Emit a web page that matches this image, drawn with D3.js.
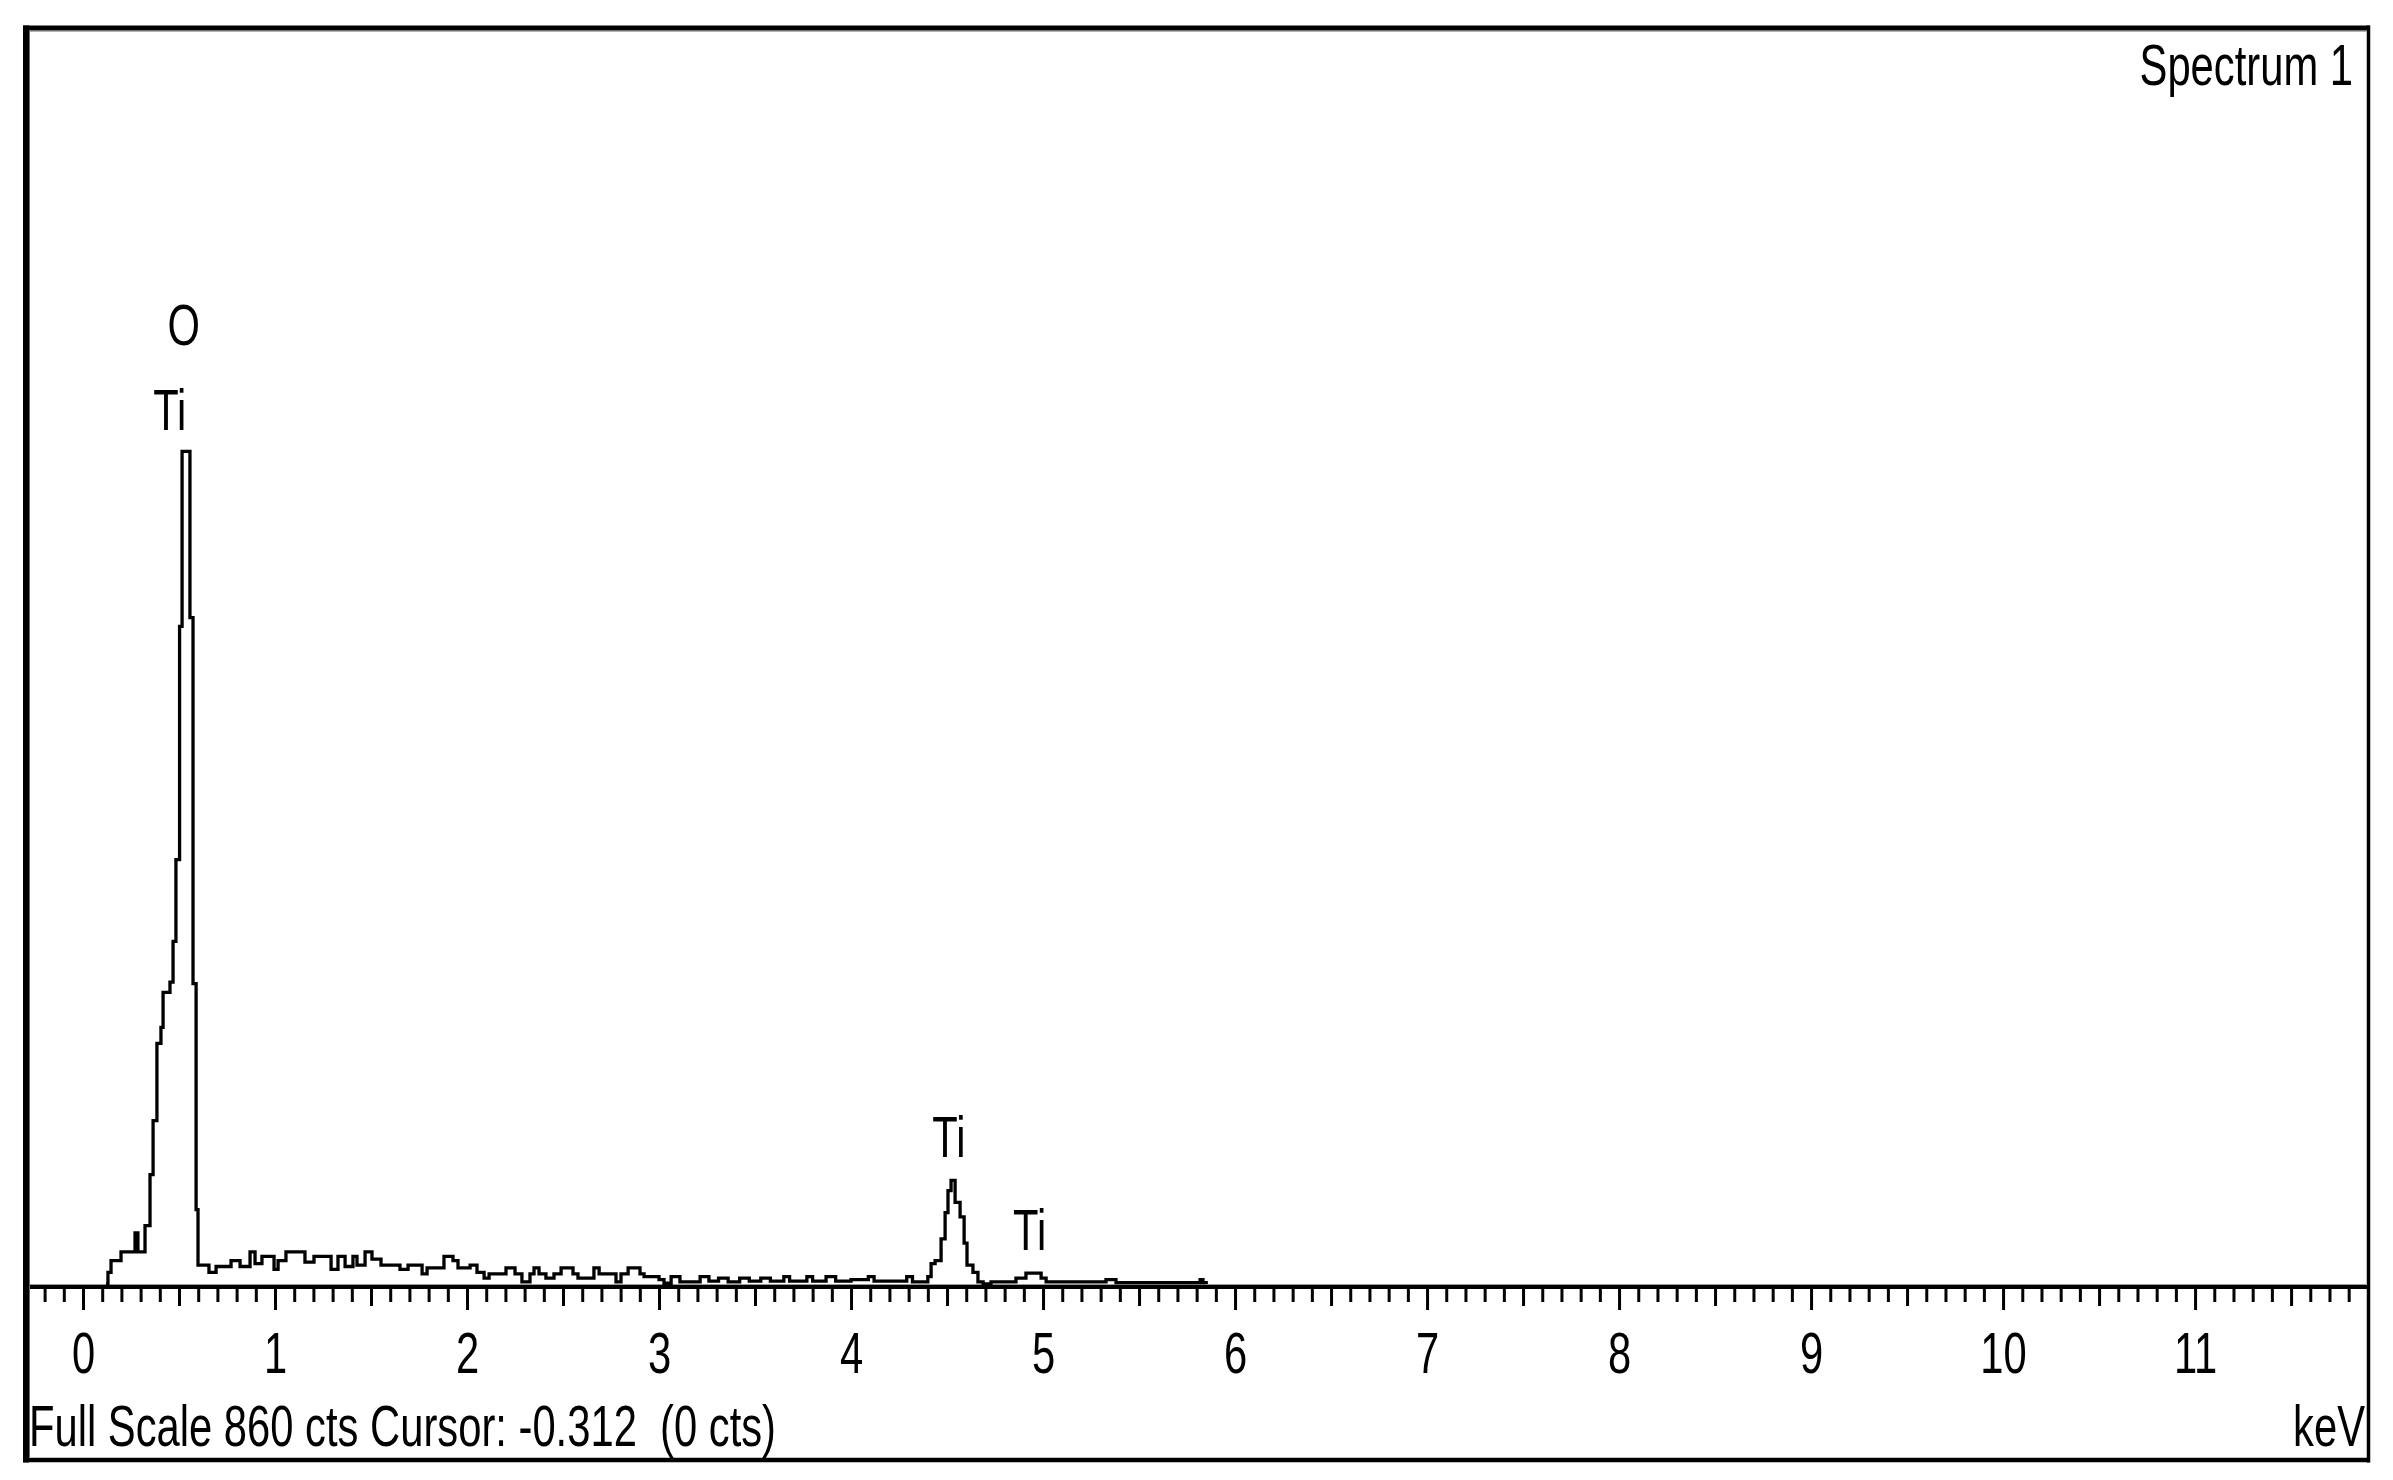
<!DOCTYPE html>
<html lang="en">
<head>
<meta charset="utf-8">
<title>EDS spectrum</title>
<script src="https://d3js.org/d3.v7.min.js"></script>
<style type="text/css">
body { margin: 0; background: #fff; }
text { font-family: "Liberation Sans", Arial, sans-serif; font-size: 58px; fill: #000; white-space: pre; }
</style>
</head>
<body>
<script type="text/javascript">

// spectrum: energy (keV) where each step starts, counts of that step
const energy = [0.12, 0.13, 0.146, 0.198, 0.271, 0.286, 0.323, 0.349, 0.365, 0.385, 0.406, 0.417, 0.453, 0.469, 0.484,
  0.503, 0.516, 0.557, 0.573, 0.589, 0.599, 0.656, 0.693, 0.771, 0.818, 0.870, 0.896, 0.932, 0.995, 1.016,
  1.057, 1.156, 1.203, 1.292, 1.328, 1.365, 1.406, 1.427, 1.469, 1.505, 1.552, 1.651, 1.693, 1.766, 1.792,
  1.880, 1.927, 1.953, 2.016, 2.052, 2.089, 2.115, 2.203, 2.250, 2.286, 2.328, 2.349, 2.375, 2.411, 2.453,
  2.490, 2.552, 2.578, 2.661, 2.688, 2.776, 2.802, 2.839, 2.901, 2.922, 3.000, 3.026, 3.063, 3.109, 3.214,
  3.260, 3.31, 3.36, 3.42, 3.47, 3.53, 3.58, 3.65, 3.68, 3.77, 3.80, 3.87, 3.92, 4.00, 4.09, 4.12, 4.29,
  4.32, 4.40, 4.417, 4.438, 4.469, 4.49, 4.505, 4.521, 4.542, 4.568, 4.589, 4.604, 4.635, 4.661, 4.688,
  4.729, 4.859, 4.911, 4.990, 5.016, 5.328, 5.380, 5.818, 5.833, 5.85];
const counts = [0, 8, 16, 22, 35, 22, 40, 75, 112, 165, 176, 200, 207, 235, 291,
  451, 571, 457, 206, 51, 13, 8, 12, 16, 12, 22, 14, 19, 10, 16,
  22, 15, 19, 10, 19, 12, 19, 13, 22, 17, 13, 10, 13, 7, 11,
  19, 16, 11, 13, 8, 4, 7, 11, 7, 1.5, 7, 11, 7, 4, 7,
  11, 7, 4, 11, 7, 1.5, 7, 11, 7, 5, 3, 0.5, 5, 1.5, 5,
  2, 4, 1.5, 4, 2, 4, 2, 5, 2, 5, 2, 5, 2, 3, 5, 2, 5,
  1.5, 5, 14, 16, 31, 49, 64, 71, 56, 46, 28, 13, 8, 1.5, 0,
  1.5, 4, 7.5, 4, 1.5, 3, 1, 3, 1, 0];

// peak identification labels
const peakNames = ["O", "Ti", "Ti", "Ti"];
const peakEnergy = [0.525, 0.452, 4.51, 4.93];
const peakLabelCounts = [644, 586, 87, 23];

// axis
const majorTicks = d3.range(0, 12);
const mediumTicks = d3.range(0, 12).map(d => d + 0.5);
const minorTicks = d3.range(-2, 119).map(d => d / 10).filter(d => Math.round(d * 10) % 5 !== 0);
const fullScale = 860;
const titleText = "Spectrum 1";
const statusText = "Full Scale 860 cts Cursor: -0.312  (0 cts)";
const unitText = "keV";

const width = 2393;
const height = 1480;
const squeeze = 0.72;   // the original font is a narrow one

const x = d3.scaleLinear().domain([-0.3, 11.885]).range([25.4, 2365]);
const y = d3.scaleLinear().domain([0, fullScale]).range([1284, 30]);
const axisY = 1287;

const svg = d3.select("body").append("svg")
    .attr("width", width)
    .attr("height", height);

// thin grey baseline of the plot area
svg.append("line")
    .attr("x1", 29).attr("x2", 2366)
    .attr("y1", y(0) + 0.5).attr("y2", y(0) + 0.5)
    .attr("stroke", "#9a9a9a").attr("stroke-width", 1);

// spectrum as a step trace
const data = energy.map((e, i) => [e, counts[i]]);
const line = d3.line()
    .x(d => x(d[0]))
    .y(d => y(d[1]))
    .curve(d3.curveStepAfter);

svg.append("path")
    .datum(data)
    .attr("d", line)
    .attr("fill", "none")
    .attr("stroke", "#000")
    .attr("stroke-width", 3.3)
    .attr("stroke-linejoin", "miter");

// axes: minor, medium and major ticks
function addAxis(values, size, labels) {
  const g = svg.append("g")
      .attr("transform", `translate(0,${axisY})`)
      .call(d3.axisBottom(x)
        .tickValues(values)
        .tickSize(size)
        .tickSizeOuter(0)
        .tickFormat(labels ? d3.format("d") : ""));
  g.select(".domain").attr("stroke-width", 4).attr("stroke", "#000")
      .attr("d", `M29,0H2367`);
  g.selectAll(".tick line").attr("stroke-width", 3).attr("stroke", "#000");
  g.selectAll(".tick text")
      .attr("y", 0).attr("dy", null)
      .attr("transform", `translate(0,${1373 - axisY}) scale(${squeeze},1)`)
      .attr("font-size", 58)
      .attr("font-family", '"Liberation Sans", Arial, sans-serif')
      .attr("fill", "#000");
  return g;
}
addAxis(minorTicks, 15, false);
addAxis(mediumTicks, 19, false);
addAxis(majorTicks, 23, true);

// peak labels
svg.append("g").selectAll("text")
    .data(peakNames)
    .join("text")
    .attr("text-anchor", "middle")
    .attr("transform", (d, i) => `translate(${x(peakEnergy[i])},${y(peakLabelCounts[i])}) scale(${squeeze},1)`)
    .text(d => d);

// captions
svg.append("text")
    .attr("text-anchor", "end")
    .attr("transform", `translate(2353,85) scale(${squeeze},1)`)
    .text(titleText);

svg.append("text")
    .attr("text-anchor", "start")
    .attr("transform", `translate(29,1446) scale(${squeeze},1)`)
    .text(statusText);

svg.append("text")
    .attr("text-anchor", "end")
    .attr("transform", `translate(2365,1446) scale(${squeeze},1)`)
    .text(unitText);

// window frame
const frame = svg.append("g").attr("fill", "none");
frame.append("line").attr("x1", 26).attr("x2", 26).attr("y1", 25.5).attr("y2", 1462.5)
    .attr("stroke", "#000").attr("stroke-width", 6);
frame.append("line").attr("x1", 23).attr("x2", 2370).attr("y1", 28).attr("y2", 28)
    .attr("stroke", "#000").attr("stroke-width", 5);
frame.append("line").attr("x1", 2368.5).attr("x2", 2368.5).attr("y1", 25.5).attr("y2", 1462.5)
    .attr("stroke", "#000").attr("stroke-width", 3.5);
frame.append("line").attr("x1", 23).attr("x2", 2370).attr("y1", 1460).attr("y2", 1460)
    .attr("stroke", "#000").attr("stroke-width", 4.5);
frame.append("line").attr("x1", 29.5).attr("x2", 29.5).attr("y1", 30.5).attr("y2", 1457.5)
    .attr("stroke", "#666").attr("stroke-width", 1);
frame.append("line").attr("x1", 29).attr("x2", 2366.5).attr("y1", 31).attr("y2", 31)
    .attr("stroke", "#666").attr("stroke-width", 1);

</script>
</body>
</html>
